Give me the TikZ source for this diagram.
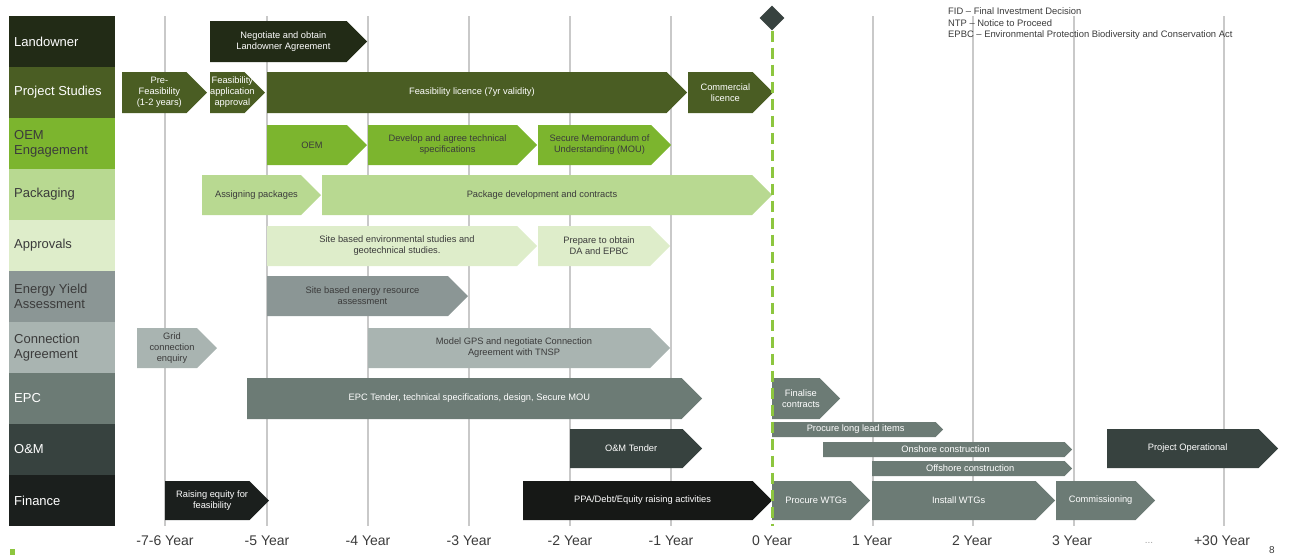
\documentclass[tikz,border=0pt]{standalone}
\usepackage{fontspec}
\setmainfont{Liberation Sans}
\usetikzlibrary{shapes.geometric}

\definecolor{cLand}{HTML}{222B16}
\definecolor{cProj}{HTML}{4A5D23}
\definecolor{cOEM}{HTML}{7CB52E}
\definecolor{cPack}{HTML}{B8D991}
\definecolor{cAppr}{HTML}{DEEDCA}
\definecolor{cEnergy}{HTML}{8B9695}
\definecolor{cConn}{HTML}{A9B4B1}
\definecolor{cEPC}{HTML}{6C7B75}
\definecolor{cOM}{HTML}{37423F}
\definecolor{cFin}{HTML}{1B1F1D}
\definecolor{cPPA}{HTML}{161816}
\definecolor{cDark}{HTML}{3B3B3B}
\definecolor{cGrid}{HTML}{C9C9C9}
\definecolor{cFID}{HTML}{8DC63F}

% chevron bar: fill, text colour, name, x1, x2, ytop, ybot, text
\newcommand{\chev}[8]{%
	\fill[#1] (#4,#6) -- ({#5-(#7-#6)/2},#6) -- (#5,{(#6+#7)/2}) -- ({#5-(#7-#6)/2},#7) -- (#4,#7) -- cycle;
	\node[bartxt, text=#2] (#3) at ({(#4+#5-(#7-#6)/4)/2},{(#6+#7)/2}) {#8};
}

\begin{document}
\begin{tikzpicture}[x=1pt,y=-1pt,
	bartxt/.style={font=\fontsize{9.3}{11}\selectfont, align=center, inner sep=0pt},
	rowlbl/.style={anchor=west, font=\fontsize{13}{15}\selectfont, align=left, inner sep=0pt},
	yearlbl/.style={font=\fontsize{14}{16}\selectfont, text=cDark, inner sep=0pt},
	gridline/.style={draw=cGrid, line width=1.3pt}]

	\useasboundingbox (0,0) rectangle (1290,555);

	\def\yTop{16}
	\def\yBot{526}

	%GRID
	\draw[gridline]
		(165,\yTop) -- (165,\yBot)
		(267,\yTop) -- (267,\yBot)
		(368,\yTop) -- (368,\yBot)
		(469,\yTop) -- (469,\yBot)
		(570,\yTop) -- (570,\yBot)
		(671,\yTop) -- (671,\yBot)
		(873,\yTop) -- (873,\yBot)
		(973,\yTop) -- (973,\yBot)
		(1074,\yTop) -- (1074,\yBot)
		(1224,\yTop) -- (1224,\yBot)
	;

	%ROWS
	\fill[cLand] (9,16) rectangle (115,67);
	\fill[cProj] (9,67) rectangle (115,118);
	\fill[cOEM] (9,118) rectangle (115,169);
	\fill[cPack] (9,169) rectangle (115,220);
	\fill[cAppr] (9,220) rectangle (115,271);
	\fill[cEnergy] (9,271) rectangle (115,322);
	\fill[cConn] (9,322) rectangle (115,373);
	\fill[cEPC] (9,373) rectangle (115,424);
	\fill[cOM] (9,424) rectangle (115,475);
	\fill[cFin] (9,475) rectangle (115,526);

	\node[rowlbl, text=white] (lLand) at (14,41.5) {Landowner};
	\node[rowlbl, text=white] (lProj) at (14,92.5) {Project Studies};
	\node[rowlbl, text=cDark] (lOEM) at (14,143.5) {OEM\\Engagement};
	\node[rowlbl, text=cDark] (lPack) at (14,194.5) {Packaging};
	\node[rowlbl, text=cDark] (lAppr) at (14,245.5) {Approvals};
	\node[rowlbl, text=cDark] (lEnergy) at (14,296.5) {Energy Yield\\Assessment};
	\node[rowlbl, text=cDark] (lConn) at (14,347.5) {Connection\\Agreement};
	\node[rowlbl, text=white] (lEPC) at (14,398.5) {EPC};
	\node[rowlbl, text=white] (lOM) at (14,449.5) {O\&M};
	\node[rowlbl, text=white] (lFin) at (14,500.5) {Finance};

	%BARS
	\chev{cLand}{white}{negotiate}{210}{367}{21}{62}{Negotiate and obtain\\Landowner Agreement}

	\chev{cProj}{white}{prefeas}{122}{207}{72}{113}{Pre-\\Feasibility\\(1-2 years)}
	\chev{cProj}{white}{feasapp}{210}{265}{72}{113}{Feasibility\\application\\approval}
	\chev{cProj}{white}{feaslic}{267}{687}{72}{113}{Feasibility licence (7yr validity)}
	\chev{cProj}{white}{commlic}{688}{773}{72}{113}{Commercial\\licence}

	\chev{cOEM}{cDark}{oem}{267}{367}{125}{165}{OEM}
	\chev{cOEM}{cDark}{devspec}{368}{537}{125}{165}{Develop and agree technical\\specifications}
	\chev{cOEM}{cDark}{mou}{538}{671}{125}{165}{Secure Memorandum of\\Understanding (MOU)}

	\chev{cPack}{cDark}{assign}{202}{321}{175}{215}{Assigning packages}
	\chev{cPack}{cDark}{packdev}{322}{772}{175}{215}{Package development and contracts}

	\chev{cAppr}{cDark}{sitenv}{267}{537}{226}{266}{Site based environmental studies and\\geotechnical studies.}
	\chev{cAppr}{cDark}{prepda}{538}{670}{226}{266}{Prepare to obtain\\DA and EPBC}

	\chev{cEnergy}{cDark}{siteen}{267}{468}{276}{316}{Site based energy resource\\assessment}

	\chev{cConn}{cDark}{gridenq}{137}{217}{328}{368}{Grid\\connection\\enquiry}
	\chev{cConn}{cDark}{modelgps}{368}{670}{328}{368}{Model GPS and negotiate Connection\\Agreement with TNSP}

	\chev{cEPC}{white}{epcten}{247}{702}{378}{419}{EPC Tender, technical specifications, design, Secure MOU}
	\chev{cEPC}{white}{finalise}{772}{840}{378}{419}{Finalise\\contracts}

	\chev{cOM}{white}{omten}{570}{702}{429}{468}{O\&M Tender}
	\chev{cEPC}{white}{longlead}{772}{943}{422}{437}{Procure long lead items}
	\chev{cEPC}{white}{onshore}{823}{1072}{442}{457}{Onshore construction}
	\chev{cEPC}{white}{offshore}{872}{1072}{461}{476}{Offshore construction}
	\chev{cOM}{white}{operational}{1107}{1278}{429}{468}{Project Operational}

	\chev{cFin}{white}{raiseq}{165}{269}{481}{520}{Raising equity for\\feasibility}
	\chev{cPPA}{white}{ppa}{523}{772}{481}{520}{PPA/Debt/Equity raising activities}
	\chev{cEPC}{white}{procwtg}{772}{870}{481}{520}{Procure WTGs}
	\chev{cEPC}{white}{install}{872}{1055}{481}{520}{Install WTGs}
	\chev{cEPC}{white}{commiss}{1056}{1155}{481}{520}{Commissioning}

	%FID
	\node[diamond, fill=cOM, minimum width=25pt, minimum height=25pt, inner sep=0pt] (fid) at (772,18) {};
	\coordinate (fidend) at (772,\yBot);
	\draw[draw=cFID, line width=3pt, dash pattern=on 11pt off 6pt] (fid.south) -- (fidend);

	%LEGEND
	\node[anchor=north west, align=left, inner sep=0pt, text=cDark, font=\fontsize{9.4}{11.5}\selectfont] (legend) at (948,7.5)
		{FID -- Final Investment Decision\\NTP -- Notice to Proceed\\EPBC -- Environmental Protection Biodiversity and Conservation Act};

	%LABELS
	\node[yearlbl] (y76) at (165,541) {-7-6 Year};
	\node[yearlbl] (y5) at (267,541) {-5 Year};
	\node[yearlbl] (y4) at (368,541) {-4 Year};
	\node[yearlbl] (y3) at (469,541) {-3 Year};
	\node[yearlbl] (y2) at (570,541) {-2 Year};
	\node[yearlbl] (y1) at (671,541) {-1 Year};
	\node[yearlbl] (y0) at (772,541) {0 Year};
	\node[yearlbl] (p1) at (872,541) {1 Year};
	\node[yearlbl] (p2) at (972,541) {2 Year};
	\node[yearlbl] (p3) at (1072,541) {3 Year};
	\node[yearlbl, text=cGrid!80!black, font=\fontsize{10}{12}\selectfont] (dots) at (1149,543) {...};
	\node[yearlbl] (p30) at (1222,541) {+30 Year};

	\fill[cFID] (10,549) rectangle (15,555);
	\node[yearlbl, anchor=south, font=\fontsize{10}{12}\selectfont] (page) at (1272,554) {8};

\end{tikzpicture}
\end{document}
